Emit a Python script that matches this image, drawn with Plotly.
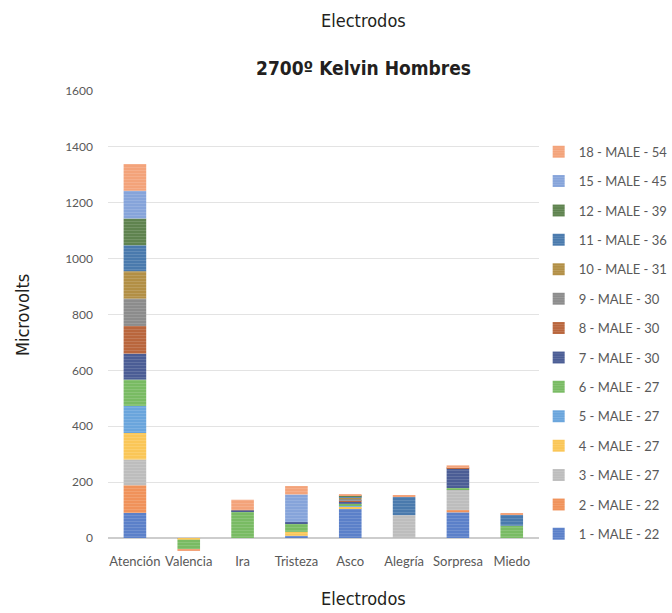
import plotly.graph_objects as go

categories = ["Atención", "Valencia", "Ira", "Tristeza", "Asco", "Alegría", "Sorpresa", "Miedo"]

series_names = [
    "1 - MALE - 22", "2 - MALE - 22", "3 - MALE - 27", "4 - MALE - 27",
    "5 - MALE - 27", "6 - MALE - 27", "7 - MALE - 30", "8 - MALE - 30",
    "9 - MALE - 30", "10 - MALE - 31", "11 - MALE - 36", "12 - MALE - 39",
    "15 - MALE - 45", "18 - MALE - 54",
]

s1 = [90, -2, 0, 8, 106, 0, 92, 0]
s2 = [99, 0, 0, 0, 0, 0, 8, 0]
s3 = [92, 0, 0, 0, 0, 82, 74, 0]
s4 = [95, -4, 0, 14, 7, 0, 0, 0]
s5 = [97, 0, 0, 0, 4, 0, 0, 0]
s6 = [94, -34, 96, 29, 7, 0, 5, 44]
s7 = [93, 0, 3, 6, 5, 0, 70, 0]
s8 = [99, 0, 0, 0, 6, 0, 5, 0]
s9 = [98, 0, 0, 0, 5, 0, 0, 0]
s10 = [98, 0, 0, 0, 4, 0, 0, 0]
s11 = [93, 0, 0, 0, 5, 65, 0, 40]
s12 = [96, 0, 0, 0, 4, 0, 0, 0]
s15 = [99, 0, 0, 99, 0, 0, 0, 0]
s18 = [96, -4, 38, 30, 3, 4, 6, 4]

series_values = [s1, s2, s3, s4, s5, s6, s7, s8, s9, s10, s11, s12, s15, s18]

colors = [
    "#5b80c9", "#f0925a", "#bdbdbd", "#fac657", "#6aa5dc", "#79bb63",
    "#4b5d95", "#b9663d", "#8c8c8c", "#b28f45", "#4a7aad", "#5f834f",
    "#86a4da", "#f3a37a",
]

y_ticks = [0, 200, 400, 600, 800, 1000, 1200, 1400, 1600]

fig = go.Figure()
for i, (name, vals, col) in enumerate(zip(series_names, series_values, colors)):
    fig.add_trace(go.Bar(
        name=name,
        x=categories,
        y=vals,
        legendgroup=name,
        legendrank=1000 - i,  # last series listed first
        marker=dict(
            color=col,
            line=dict(width=0),
            pattern=dict(shape="-", size=3, solidity=0.25,
                         fgcolor="rgba(255,255,255,0.35)", fillmode="overlay"),
        ),
    ))

cond = "DejaVu Sans Condensed, DejaVu Sans, sans-serif"
body = "Lato, Open Sans, sans-serif"
title_color = "#231f20"

fig.update_layout(
    width=672, height=613,
    barmode="relative",
    bargap=0.58,
    paper_bgcolor="white",
    plot_bgcolor="white",
    margin=dict(l=108, r=128, t=91, b=61),
    font=dict(family=body, color="#595959", size=12),
    xaxis=dict(
        showgrid=False, showline=False, ticks="",
        tickangle=0, automargin=False,
        tickfont=dict(size=13, color="#595959", family=body),
    ),
    yaxis=dict(
        range=[-50, 1600],
        tickvals=y_ticks,
        showgrid=True, gridcolor="#e3e3e3", gridwidth=1,
        zeroline=True, zerolinecolor="#cdcdcd", zerolinewidth=2,
        showline=False, ticks="", automargin=False,
        tickfont=dict(size=12, color="#595959", family=body),
        ticklabelstandoff=14,
    ),
    legend=dict(
        xref="container", yref="container",
        x=0.8016, xanchor="left", y=0.777, yanchor="top",
        maxheight=600,
        traceorder="grouped",
        tracegroupgap=9.5,
        font=dict(size=13, color="#595959", family=body),
        itemwidth=30,
        bgcolor="rgba(0,0,0,0)",
    ),
    annotations=[
        dict(text="Electrodos", xref="paper", yref="paper", x=0.594, y=1, yshift=71,
             xanchor="center", yanchor="middle",
             showarrow=False, font=dict(family=cond, size=18, color=title_color)),
        dict(text="<b>2700º Kelvin Hombres</b>", xref="paper", yref="paper", x=0.594, y=1, yshift=23,
             xanchor="center", yanchor="middle",
             showarrow=False, font=dict(family=cond, size=19, color=title_color)),
        dict(text="Electrodos", xref="paper", yref="paper", x=0.594, y=0, yshift=-46,
             xanchor="center", yanchor="middle",
             showarrow=False, font=dict(family=cond, size=18, color=title_color)),
        dict(text="Microvolts", xref="paper", yref="paper", x=0, xshift=-86, y=0.514,
             xanchor="center", yanchor="middle",
             textangle=-90, showarrow=False, font=dict(family=cond, size=18, color=title_color)),
    ],
)

fig.write_html("out.html")
